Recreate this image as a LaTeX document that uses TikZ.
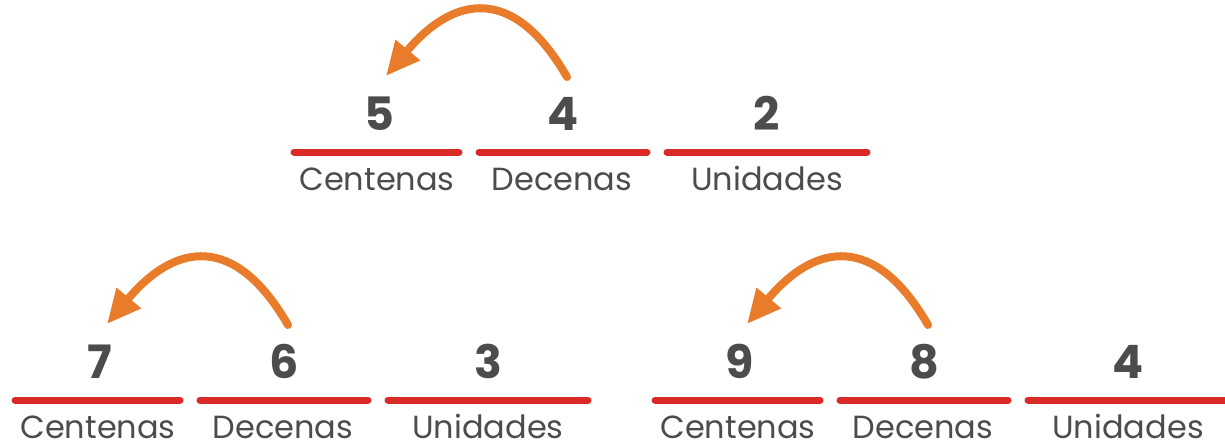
\documentclass[tikz,border=0pt]{standalone}
\usepackage{fontspec}
\setmainfont{Poppins}
\usetikzlibrary{arrows.meta}
\definecolor{rojo}{HTML}{DA2A27}
\definecolor{naranja}{HTML}{E97C2B}
\definecolor{gris}{HTML}{4B4C4E}
\tikzset{
  raya/.style={draw=rojo, line width=3.5pt, line cap=round},
  cifra/.style={anchor=base, inner sep=0pt, text=gris, font=\fontsize{23}{28}\selectfont\bfseries},
  nombre/.style={anchor=base, inner sep=0pt, text=gris, font=\fontsize{16}{20}\selectfont},
  flecha/.style={draw=naranja, line width=4pt, line cap=round, -{Triangle[length=17pt,width=15pt]}}
}
\begin{document}
\begin{tikzpicture}[x=0.5pt, y=0.5pt]
\useasboundingbox (0,0) rectangle (1225,440);
\foreach \gx/\gy/\a/\b/\c/\n in {291/288/5/4/2/s, 12/40/7/6/3/i, 652/40/9/8/4/d}{
\begin{scope}[shift={(\gx,\gy)}]
\draw[raya] (3,0) -- (168,0);
\draw[raya] (188,0) -- (356,0);
\draw[raya] (376,0) -- (576,0);
\node[cifra] (c\n) at (88,22) {\a};
\node[cifra] (d\n) at (272,22) {\b};
\node[cifra] (u\n) at (476,22) {\c};
\node[nombre] (tc\n) at (86,-38) {Centenas};
\node[nombre] (td\n) at (271,-38) {Decenas};
\node[nombre] (tu\n) at (476,-38) {Unidades};
\coordinate (ini\n) at (276,75);
\coordinate (fin\n) at (95,76);
\draw[flecha] (ini\n) to[out=120, in=50, looseness=1.5] (fin\n);
\end{scope}
}
\end{tikzpicture}
\end{document}
